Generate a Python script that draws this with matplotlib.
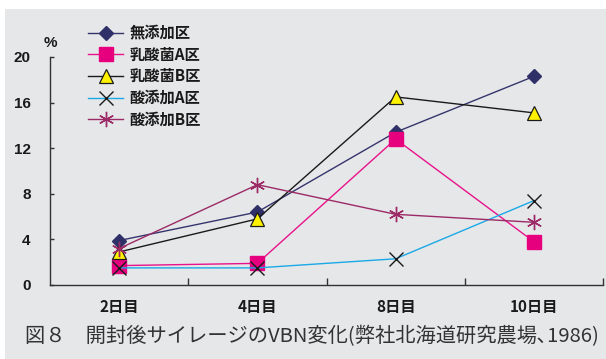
import matplotlib
matplotlib.use("Agg")
import matplotlib.pyplot as plt
from matplotlib.patches import Rectangle

# ---- data ----
days = ["2日目", "4日目", "8日目", "10日目"]
series_names = ["無添加区", "乳酸菌A区", "乳酸菌B区", "酸添加A区", "酸添加B区"]
mutenka = [3.9, 6.4, 13.4, 18.3]
nyusan_a = [1.7, 1.9, 12.8, 3.8]
nyusan_b = [2.9, 5.8, 16.5, 15.1]
san_a = [1.5, 1.5, 2.3, 7.4]
san_b = [3.2, 8.8, 6.2, 5.5]
y_ticks = [0, 4, 8, 12, 16, 20]

CJK = ["Noto Sans CJK JP", "DejaVu Sans"]
BG = "#e6e7e9"

fig = plt.figure(figsize=(6.06, 3.59), dpi=100)
fig.patch.set_facecolor("white")
fig.patches.append(Rectangle((5 / 606, 0), 1, 1 - 9 / 359, transform=fig.transFigure,
                             facecolor=BG, edgecolor="none", zorder=-10))

ax = fig.add_axes([50 / 606, 1 - 285 / 359, 553 / 606, 228 / 359])
ax.set_facecolor("none")

x = range(len(days))
styles = [
    (mutenka, dict(color="#35356d", marker="D", markersize=7, markerfacecolor="#2f3068",
                   markeredgecolor="#2f3068")),
    (nyusan_a, dict(color="#e8138b", marker="s", markersize=10, markerfacecolor="#e6007e",
                    markeredgecolor="#e6007e")),
    (nyusan_b, dict(color="#1a1a1a", marker="^", markersize=10.5, markerfacecolor="#fff200",
                    markeredgecolor="#1a1a1a", markeredgewidth=0.9)),
    (san_a, dict(color="#1aa9e6", marker="x", markersize=10, markeredgecolor="#1a1a1a",
                 markeredgewidth=1.0)),
    (san_b, dict(color="#9c2a66", marker=(6, 2, 0), markersize=11, markeredgecolor="#9c2a66",
                 markeredgewidth=1.0)),
]
for name, (vals, st) in zip(series_names, styles):
    ax.plot(x, vals, linewidth=1.0, label=name, clip_on=False, **st)

ax.set_xlim(-0.5, 3.5)
ax.set_ylim(0, 20)

for side in ("top", "right"):
    ax.spines[side].set_visible(False)
for side in ("left", "bottom"):
    ax.spines[side].set_color("#333333")
    ax.spines[side].set_linewidth(1.0)

ax.set_yticks(y_ticks)
ax.set_yticklabels([str(v) for v in y_ticks], fontfamily="Liberation Sans",
                   fontweight="bold", fontsize=11, color="#1a1a1a")
ax.tick_params(axis="y", direction="in", length=3, width=1, color="#333333", pad=14)

ax.set_xticks(list(x))
ax.set_xticklabels(days, fontfamily=CJK, fontweight="bold", fontsize=11, color="#1a1a1a")
ax.tick_params(axis="x", which="major", length=0, pad=10)
ax.set_xticks([0.5, 1.5, 2.5, 3.5], minor=True)
ax.tick_params(axis="x", which="minor", direction="in", length=5, width=1, color="#333333")

ax.text(-0.5, 20.6, "%", fontfamily="Liberation Sans", fontweight="bold", fontsize=11,
        ha="center", va="bottom", color="#1a1a1a", transform=ax.transData)

leg = ax.legend(loc="upper left", bbox_to_anchor=(88 / 606, 1 - 25 / 359),
                bbox_transform=fig.transFigure, frameon=False,
                prop={"family": CJK, "weight": "bold", "size": 11},
                handlelength=2.3, handletextpad=0.4, labelspacing=0.37,
                borderpad=0, borderaxespad=0)
for t in leg.get_texts():
    t.set_color("#1a1a1a")

fig.text(25 / 606, 22 / 359, "図８　開封後サイレージのVBN変化(弊社北海道研究農場､1986)",
         fontfamily=CJK, fontsize=14.6, color="#333333", ha="left", va="center")

fig.savefig("out.png", dpi=100, facecolor=fig.get_facecolor())
